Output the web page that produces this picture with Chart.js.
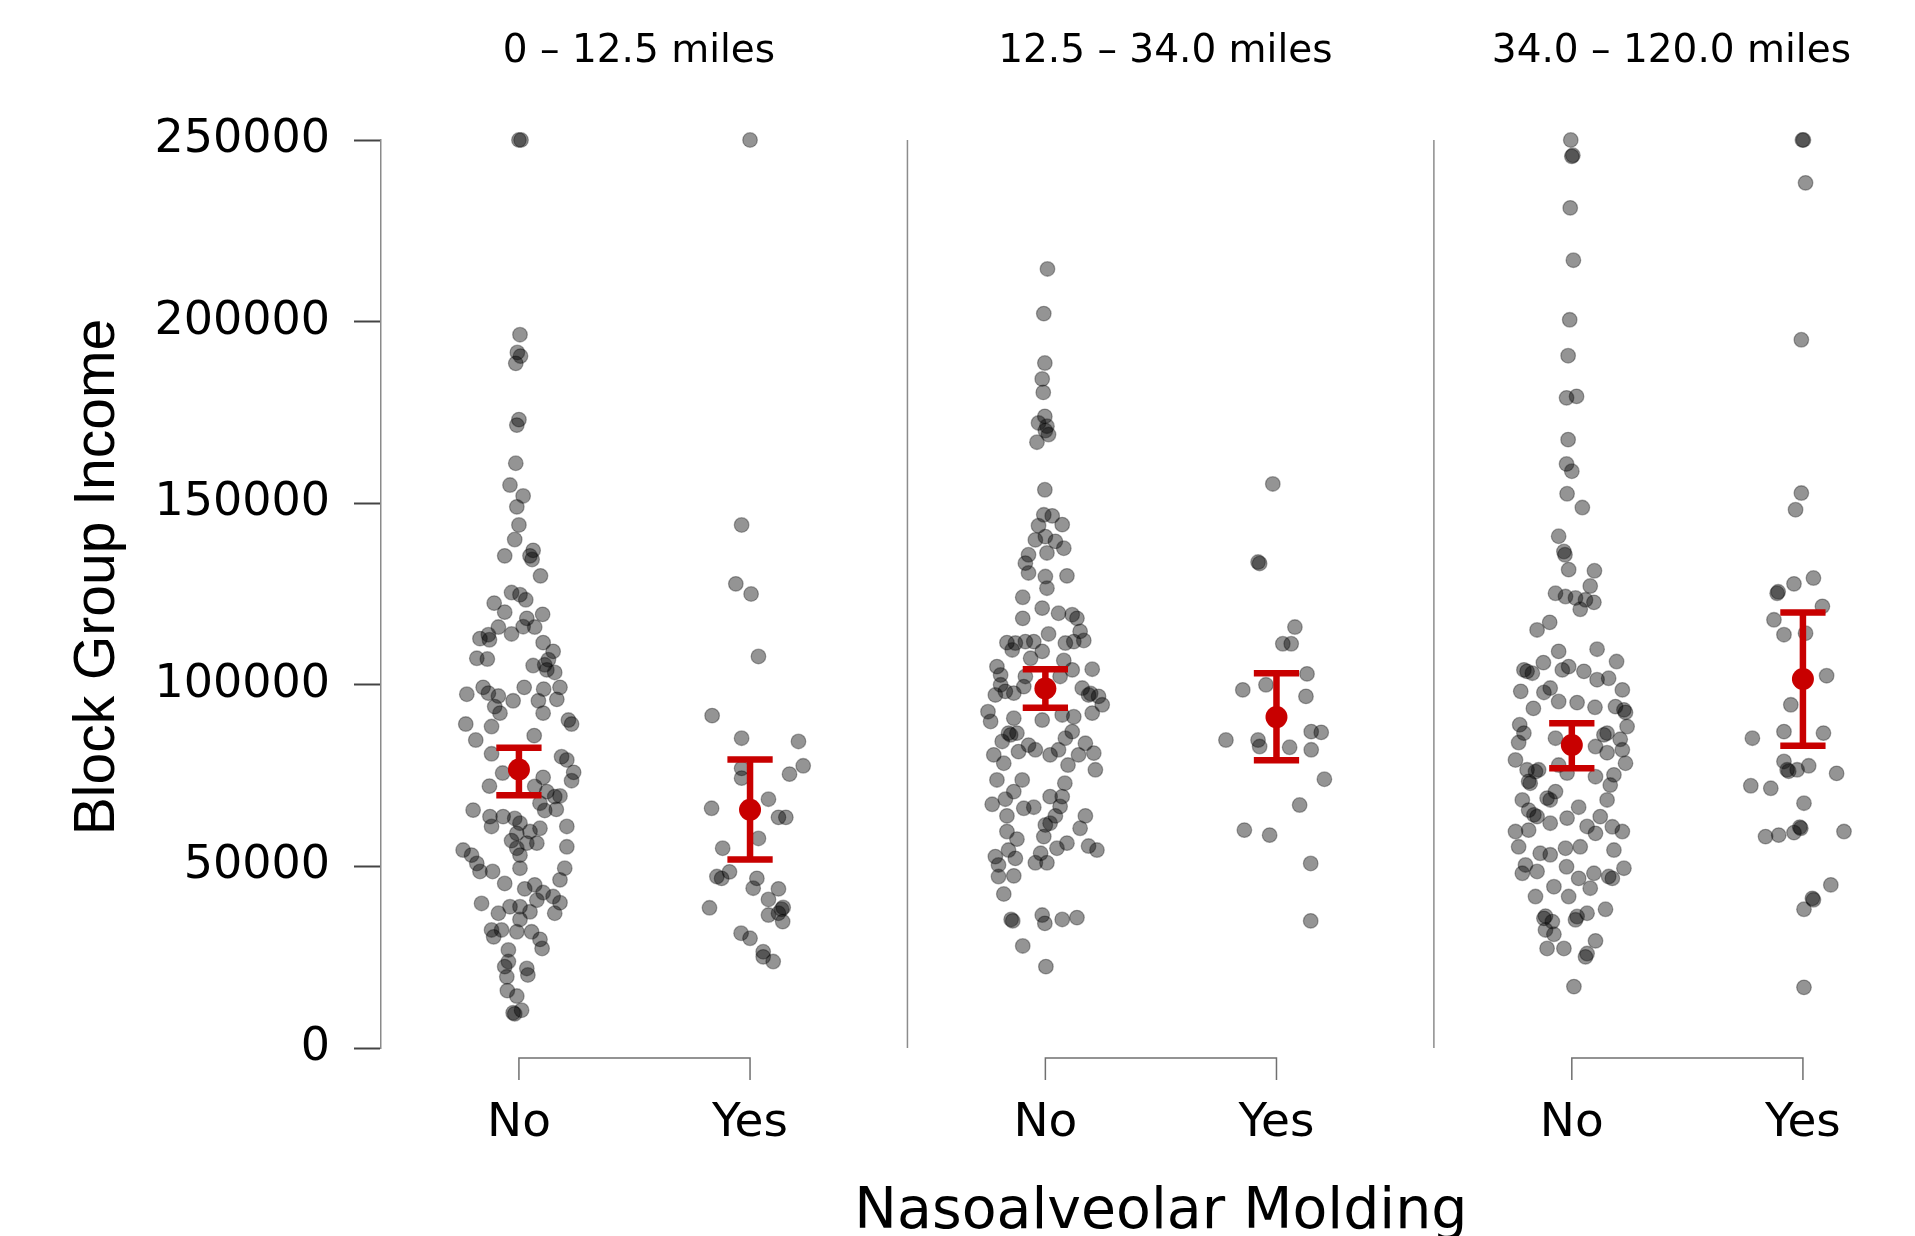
<!DOCTYPE html>
<html>
<head>
<meta charset="utf-8">
<script src="https://cdn.jsdelivr.net/npm/chart.js@4"></script>
<style>
  html, body { margin: 0; padding: 0; background: #fff; }
  canvas { display: block; }
</style>
</head>
<body>
<canvas id="incomeChart" width="1915" height="1236"></canvas>
<script>
// Distance bands and treatment groups
const panels = ['0 – 12.5 miles', '12.5 – 34.0 miles', '34.0 – 120.0 miles'];
const groups = ['No', 'Yes'];
const xTitle = 'Nasoalveolar Molding';
const yTitle = 'Block Group Income';

// Block group income per patient, as [jitter, income]
// jitter is the small sideways spread of the strip chart (x-axis units)
const nearNo = [
    [0, 250000], [0.004, 250000], [0.002, 196400], [-0.003, 191500], [0.003, 190500], [-0.006, 188500],
    [0, 173000], [-0.004, 171500], [-0.006, 161000], [-0.017, 155000], [0.008, 152000], [-0.004, 149000],
    [0, 144000], [-0.008, 140000], [-0.027, 135500], [0.027, 137000], [0.021, 135500], [0.025, 134500],
    [0.041, 130000], [-0.014, 125400], [0.002, 124800], [0.013, 123400], [-0.047, 122500], [-0.027, 120000],
    [0.045, 119400], [0.015, 118300], [-0.039, 115900], [-0.014, 114000], [0.030, 115900], [0.008, 116000],
    [-0.074, 112700], [-0.056, 112400], [-0.058, 113800], [0.046, 111600], [0.065, 109200], [-0.080, 107300],
    [-0.060, 107100], [0.027, 105300], [0.049, 105500], [0.056, 106900], [0.068, 103400], [0.053, 104100],
    [0.010, 99300], [0.047, 98800], [0.078, 99300], [-0.099, 97400], [-0.068, 99300], [-0.058, 97700],
    [-0.039, 96900], [-0.011, 95600], [0.037, 95600], [0.072, 96000], [-0.046, 94000], [-0.036, 92200],
    [0.046, 92200], [0.094, 90300], [0.100, 89200], [-0.101, 89200], [-0.052, 88500], [-0.082, 84800],
    [0.029, 86000], [0.081, 80200], [0.091, 79300], [-0.052, 81000], [0.104, 75900], [0.100, 73600],
    [-0.031, 75700], [0.046, 74500], [-0.056, 72100], [0.030, 72000], [0.053, 70600], [0.068, 69200],
    [0.078, 69400], [0.040, 67400], [0.049, 65400], [0.071, 65700], [-0.087, 65500], [-0.055, 63700],
    [-0.030, 63700], [-0.008, 63200], [0.002, 61900], [-0.052, 61000], [0.091, 61000], [0.040, 60500],
    [-0.004, 59100], [0.021, 59600], [-0.014, 57100], [0.015, 56400], [0.034, 56400], [0.091, 55400],
    [-0.106, 54500], [-0.090, 53100], [-0.004, 55000], [0.002, 53100], [-0.080, 50800], [-0.074, 48600],
    [-0.050, 48600], [-0.027, 45300], [0.002, 49500], [0.087, 49500], [0.078, 46300], [0.030, 44900],
    [0.011, 43800], [0.046, 42800], [0.065, 41700], [0.078, 40000], [-0.071, 39800], [0.034, 40700],
    [-0.017, 38900], [0.002, 38900], [-0.039, 37100], [0.021, 37500], [0.068, 37100], [0.002, 35400],
    [-0.052, 32500], [-0.033, 32500], [-0.004, 32000], [0.024, 32000], [-0.048, 30600], [0.040, 29900],
    [0.044, 27400], [-0.020, 27000], [-0.027, 22400], [-0.020, 23800], [0.015, 21900], [0.017, 20100],
    [-0.023, 19600], [-0.022, 15800], [-0.004, 14300], [-0.011, 9700], [-0.008, 9400], [0.005, 10400]
];
const nearYes = [
    [0, 250000], [-0.016, 144000], [-0.027, 127800], [0.002, 125000], [0.016, 107800], [-0.072, 91500],
    [-0.016, 85300], [0.092, 84400], [0.101, 77700], [0.075, 75400], [-0.016, 77000], [-0.016, 74300],
    [0.035, 68500], [-0.073, 66000], [0.054, 63500], [0.068, 63500], [0.016, 57700], [-0.052, 55000],
    [-0.039, 48500], [-0.063, 47200], [-0.054, 46700], [0.013, 46700], [0.006, 44000], [0.054, 43800],
    [-0.077, 38600], [0.035, 40900], [0.063, 38700], [0.060, 38200], [0.054, 37100], [0.035, 36600],
    [0.062, 34800], [-0.017, 31600], [0, 30200], [0.025, 26500], [0.025, 25100], [0.044, 23800]
];
const midNo = [
    [0.004, 214500], [-0.003, 202200], [-0.001, 188600], [-0.006, 184200], [-0.004, 180500], [-0.001, 173900],
    [-0.013, 172100], [0.003, 171200], [0.006, 168900], [0, 170000], [-0.016, 166800], [-0.001, 153700],
    [-0.003, 146800], [0.013, 146500], [0.032, 144100], [-0.013, 143800], [0, 140800], [-0.019, 139900],
    [0.019, 139500], [0.035, 137600], [0.003, 136300], [-0.032, 135800], [-0.038, 133500], [-0.032, 130800],
    [0, 129800], [0.041, 130000], [0.003, 126600], [-0.043, 124100], [-0.006, 121100], [0.025, 119700],
    [0.051, 119300], [0.060, 118300], [-0.043, 118300], [0.006, 114000], [0.066, 114700], [-0.073, 111600],
    [-0.057, 111500], [-0.038, 111900], [-0.022, 111900], [0.038, 111500], [0.054, 111900], [0.073, 112200],
    [-0.063, 109600], [-0.006, 109200], [-0.028, 107300], [-0.092, 105000], [0.035, 106700], [0.051, 104100],
    [0.089, 104300], [-0.085, 102700], [-0.038, 102300], [-0.085, 100000], [-0.041, 99500], [0.028, 102300],
    [0.070, 99100], [0.082, 97200], [0.086, 97600], [0.101, 96800], [0.108, 94500], [0.089, 92200],
    [-0.095, 97200], [-0.076, 98200], [-0.060, 97700], [-0.109, 92600], [-0.104, 89900], [-0.060, 90800],
    [-0.006, 90300], [0.032, 91700], [0.054, 91200], [-0.070, 86700], [-0.066, 86200], [-0.054, 86700],
    [-0.082, 84400], [-0.032, 83400], [0.051, 87100], [0.038, 85300], [0.076, 83900], [-0.098, 80700],
    [-0.051, 81600], [-0.019, 82100], [0.009, 80700], [0.025, 82100], [0.063, 80700], [0.092, 81200],
    [-0.079, 78400], [0.043, 77900], [0.095, 76600], [-0.092, 73800], [-0.044, 73800], [0.037, 72900],
    [-0.060, 70600], [-0.076, 68500], [-0.101, 67100], [0.009, 69200], [0.032, 69200], [-0.073, 63900],
    [-0.041, 66000], [-0.022, 66300], [0.028, 66500], [0.019, 63900], [0.009, 61900], [0.076, 63900],
    [0.066, 60500], [0, 61400], [-0.073, 59600], [-0.054, 57500], [-0.003, 58200], [-0.070, 54500],
    [0.022, 55000], [0.041, 56400], [0.082, 55600], [0.098, 54500], [-0.095, 52700], [-0.089, 50400],
    [-0.057, 52200], [-0.019, 51000], [-0.009, 53600], [0.003, 51000], [-0.089, 47200], [-0.060, 47400],
    [-0.079, 42400], [-0.065, 35400], [-0.062, 35000], [-0.006, 36600], [-0.001, 34300], [0.032, 35400],
    [0.060, 35900], [-0.043, 28100], [0.001, 22400]
];
const midYes = [
    [-0.007, 155300], [-0.035, 133800], [-0.032, 133400], [0.035, 115900], [0.012, 111300], [0.028, 111300],
    [0.058, 103000], [-0.064, 98600], [-0.020, 100000], [0.056, 96800], [-0.096, 84800], [-0.035, 84800],
    [-0.032, 83000], [0.025, 82800], [0.066, 87100], [0.085, 86900], [0.066, 82100], [0.091, 74000],
    [0.044, 66900], [-0.061, 60000], [-0.013, 58600], [0.065, 50800], [0.065, 35000]
];
const farNo = [
    [-0.002, 250000], [0, 245500], [0.002, 245800], [-0.003, 231300], [0.003, 216900], [-0.004, 200500],
    [-0.007, 190600], [-0.010, 179000], [0.009, 179400], [-0.007, 167500], [-0.010, 160800], [0, 158800],
    [-0.009, 152600], [0.020, 148800], [-0.025, 140900], [-0.015, 136700], [-0.013, 135800], [-0.006, 131700],
    [0.043, 131400], [0.035, 127200], [-0.031, 125200], [-0.012, 124300], [0.007, 123900], [0.026, 123400],
    [0.042, 122700], [0.016, 120800], [-0.066, 115100], [-0.042, 117200], [-0.025, 109200], [0.048, 109800],
    [-0.091, 104100], [-0.085, 103700], [-0.075, 103200], [-0.054, 106100], [-0.018, 104100], [-0.006, 105000],
    [0.023, 103700], [0.048, 101400], [0.070, 101800], [0.085, 106400], [0.096, 98600], [-0.097, 98200],
    [-0.053, 97900], [-0.041, 99100], [-0.025, 95400], [0.010, 95100], [0.044, 93800], [-0.073, 93500],
    [0.083, 94000], [0.102, 92400], [0.099, 93100], [-0.099, 89000], [-0.091, 86700], [-0.101, 84100],
    [-0.031, 85300], [0.067, 86700], [0.061, 86200], [0.105, 88500], [0.092, 85000], [0.045, 83000],
    [0.067, 81300], [0.096, 82100], [-0.107, 79300], [-0.085, 76600], [-0.063, 76600], [-0.069, 76100],
    [-0.025, 77900], [-0.009, 75700], [0.045, 74700], [0.080, 75200], [0.102, 78400], [-0.079, 72900],
    [-0.082, 73400], [0.073, 72400], [-0.031, 70600], [-0.041, 68300], [-0.047, 68800], [0.067, 68300],
    [-0.094, 68300], [-0.082, 65500], [-0.066, 63700], [-0.072, 64200], [0.013, 66300], [0.054, 63700],
    [-0.041, 61900], [-0.009, 63300], [0.077, 60900], [-0.107, 59600], [-0.082, 60000], [0.029, 61000],
    [0.045, 59100], [0.096, 59600], [-0.101, 55400], [-0.060, 53600], [-0.041, 53200], [-0.012, 55000],
    [0.016, 55400], [0.080, 54500], [-0.088, 50400], [-0.066, 48600], [-0.010, 49900], [0.013, 46700],
    [0.042, 48100], [0.077, 46700], [0.070, 47200], [0.099, 49500], [-0.094, 48100], [-0.034, 44400],
    [0.035, 44000], [-0.069, 41700], [-0.006, 41700], [-0.050, 36300], [-0.053, 35700], [-0.037, 34800],
    [0.010, 36200], [0.007, 35300], [0.029, 37100], [0.064, 38200], [-0.050, 32500], [-0.034, 31300],
    [-0.047, 27400], [-0.015, 27400], [0.026, 25100], [0.029, 26000], [0.045, 29500], [0.004, 16900]
];
const farYes = [
    [-0.001, 250000], [0.001, 250000], [0.005, 238200], [-0.003, 195000], [-0.003, 152800], [-0.014, 148200],
    [-0.017, 127800], [0.020, 129400], [-0.049, 125200], [-0.047, 125600], [0.037, 121600], [-0.055, 117900],
    [-0.036, 113800], [0.005, 114200], [0.045, 102500], [-0.023, 94500], [-0.096, 85300], [-0.036, 87100],
    [0.039, 86700], [-0.036, 78900], [-0.030, 76600], [-0.027, 76200], [-0.011, 76600], [0.011, 77700],
    [0.064, 75600], [-0.099, 72200], [-0.061, 71500], [0.002, 67400], [-0.071, 58200], [-0.046, 58600],
    [-0.017, 59300], [-0.004, 60500], [-0.006, 60800], [0.078, 59600], [0.053, 44900], [0.018, 41200],
    [0.020, 40800], [0.002, 38200], [0.002, 16700]
];

// Group means with their intervals, order: near No, near Yes, mid No, mid Yes, far No, far Yes
const meanIncome = [76700, 65600, 99000, 91100, 83400, 101600];
const ciLower = [69600, 51900, 93700, 79200, 77000, 83200];
const ciUpper = [82700, 79400, 104300, 103200, 89400, 119900];

const yTicks = [0, 50000, 100000, 150000, 200000, 250000];

// Layout of the strip chart
const slot = [0.262, 0.701];       // where No / Yes sit inside a panel
const capHalf = 0.043;             // half width of the interval caps
const font = 'DejaVu Sans';
const red = '#c80000';

const strips = [[nearNo, nearYes], [midNo, midYes], [farNo, farYes]];
const catX = [];
panels.forEach((_, p) => slot.forEach(s => catX.push(p + s)));

const dotSets = [];
strips.forEach((pair, p) => {
    pair.forEach((rows, g) => {
        dotSets.push({
            type: 'scatter',
            label: panels[p] + ' ' + groups[g],
            data: rows.map(([j, v]) => ({ x: p + slot[g] + j, y: v })),
            pointRadius: 7.3,
            pointBackgroundColor: 'rgba(0,0,0,0.42)',
            pointBorderColor: 'rgba(0,0,0,0.32)',
            pointBorderWidth: 1.3,
            clip: false,
            order: 2
        });
    });
});

const barPts = [];
catX.forEach((cx, i) => {
    barPts.push({ x: cx, y: ciLower[i] }, { x: cx, y: ciUpper[i] }, { x: cx, y: null });
    barPts.push({ x: cx - capHalf, y: ciUpper[i] }, { x: cx + capHalf, y: ciUpper[i] }, { x: cx, y: null });
    barPts.push({ x: cx - capHalf, y: ciLower[i] }, { x: cx + capHalf, y: ciLower[i] }, { x: cx, y: null });
});

// dividers, bracket axes, panel headings and axis titles
const panelFrame = {
    id: 'panelFrame',
    beforeDatasetsDraw(chart) {
        const { ctx, chartArea, scales: { x } } = chart;
        ctx.save();
        ctx.lineWidth = 1.5;
        ctx.strokeStyle = '#8c8c8c';
        for (let p = 1; p < panels.length; p++) {
            const px = x.getPixelForValue(p);
            ctx.beginPath();
            ctx.moveTo(px, chartArea.top);
            ctx.lineTo(px, chartArea.bottom);
            ctx.stroke();
        }
        ctx.strokeStyle = '#707070';
        const yb = chartArea.bottom + 10;
        panels.forEach((_, p) => {
            const a = x.getPixelForValue(p + slot[0]);
            const b = x.getPixelForValue(p + slot[1]);
            ctx.beginPath();
            ctx.moveTo(a, yb + 22);
            ctx.lineTo(a, yb);
            ctx.lineTo(b, yb);
            ctx.lineTo(b, yb + 22);
            ctx.stroke();
        });
        ctx.fillStyle = '#000';
        ctx.textAlign = 'center';
        ctx.textBaseline = 'middle';
        ctx.font = '39px "' + font + '"';
        panels.forEach((t, p) => {
            const half = ctx.measureText(t).width / 2;
            const cx = Math.min(x.getPixelForValue(p + 0.49), chartArea.right - 53 - half);
            ctx.fillText(t, cx, chartArea.top - 88);
        });
        ctx.font = '57px "' + font + '"';
        ctx.fillText(xTitle, x.getPixelForValue(1 + (slot[0] + slot[1]) / 2), chartArea.bottom + 165);
        ctx.translate(98, chartArea.top + 437);
        ctx.rotate(-Math.PI / 2);
        ctx.font = '57px "Liberation Sans"';
        ctx.fillText(yTitle, 0, 0);
        ctx.restore();
    }
};

const incomeChart = new Chart(
    document.getElementById('incomeChart'),
    {
        data: {
            datasets: [
                {
                    type: 'scatter',
                    label: 'mean',
                    data: catX.map((cx, i) => ({ x: cx, y: meanIncome[i] })),
                    pointRadius: 11,
                    pointBackgroundColor: red,
                    pointBorderWidth: 0,
                    order: 0
                },
                {
                    type: 'line',
                    label: 'interval',
                    data: barPts,
                    borderColor: red,
                    borderWidth: 6.5,
                    borderCapStyle: 'butt',
                    pointRadius: 0,
                    spanGaps: false,
                    fill: false,
                    order: 1
                },
                ...dotSets
            ]
        },
        options: {
            responsive: false,
            animation: false,
            events: [],
            layout: { padding: { top: 140, right: 0, bottom: 0, left: 0 } },
            plugins: { legend: { display: false }, tooltip: { enabled: false } },
            scales: {
                x: {
                    type: 'linear',
                    min: 0,
                    max: 2.893,
                    afterBuildTicks: s => { s.ticks = catX.map(v => ({ value: v })); },
                    afterFit: s => { s.height = 188; },
                    ticks: {
                        callback: (v, i) => groups[i % 2],
                        autoSkip: false,
                        maxRotation: 0,
                        padding: 48,
                        color: '#000',
                        font: { family: font, size: 47 }
                    },
                    grid: { display: false, drawTicks: false },
                    border: { display: false }
                },
                y: {
                    min: 0,
                    max: 250000,
                    afterBuildTicks: s => { s.ticks = yTicks.map(v => ({ value: v })); },
                    afterFit: s => { s.width = 381; },
                    ticks: {
                        callback: v => String(v),
                        padding: 24,
                        color: '#000',
                        font: { family: font, size: 46 }
                    },
                    grid: { drawOnChartArea: false, drawTicks: true, tickLength: 27, tickColor: '#444', tickWidth: 2 },
                    border: { display: true, color: '#8a8a8a', width: 1.5 }
                }
            }
        },
        plugins: [panelFrame]
    }
);
</script>
</body>
</html>
